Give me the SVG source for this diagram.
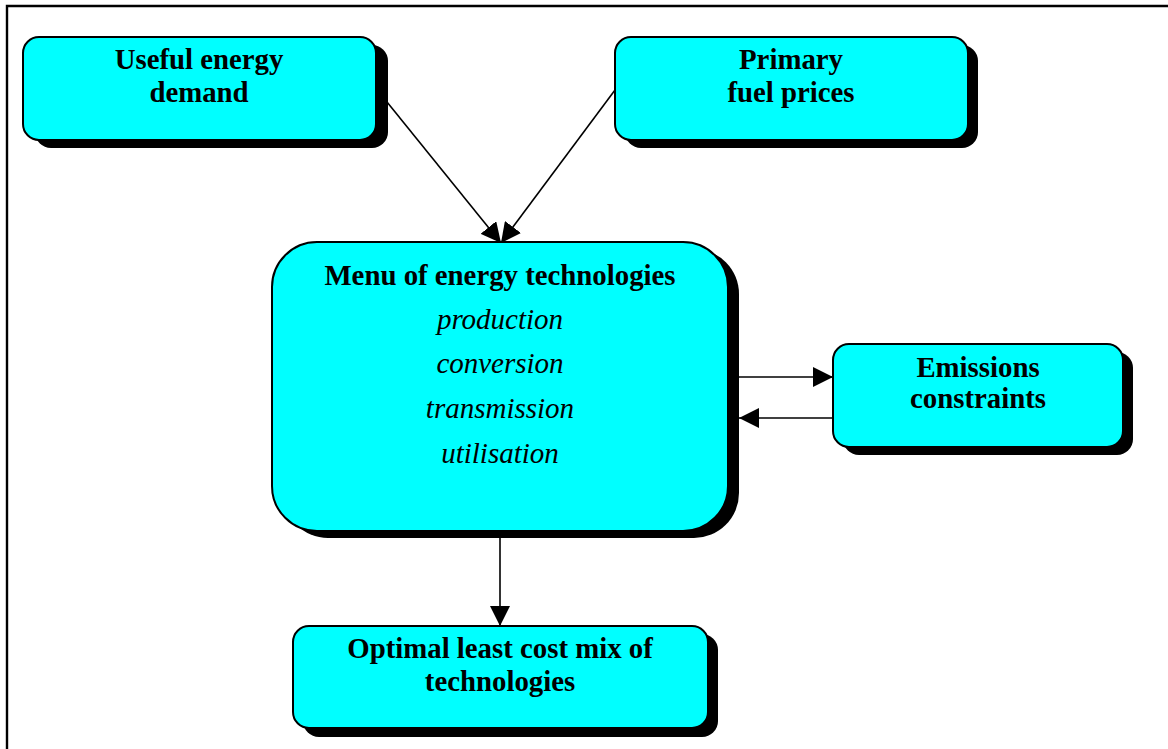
<svg xmlns="http://www.w3.org/2000/svg" width="1168" height="749" viewBox="0 0 1168 749">
<style>
.box{fill:#00ffff;stroke:#000;stroke-width:2}
.sh{fill:#000}
.t{font-family:"Liberation Serif","Times New Roman",serif;font-weight:bold;font-size:28.8px;text-anchor:middle;fill:#000}
.i{font-family:"Liberation Serif","Times New Roman",serif;font-style:italic;font-size:29px;text-anchor:middle;fill:#000}
.c{stroke:#000;stroke-width:1.6;fill:none}
</style>
<defs>
<marker id="ah" viewBox="0 0 20 20" refX="20" refY="10" markerWidth="20" markerHeight="20" markerUnits="userSpaceOnUse" orient="auto">
<path d="M0,0 L20,10 L0,20 Z" fill="#000"/>
</marker>
</defs>
<rect width="1168" height="749" fill="#fff"/>
<path d="M7,749 L7,6 L1168,6" fill="none" stroke="#000" stroke-width="2.4"/>
<g id="connectors">
<line class="c" x1="387" y1="102" x2="501" y2="243" marker-end="url(#ah)"/>
<line class="c" x1="615" y1="90" x2="501" y2="243" marker-end="url(#ah)"/>
<line class="c" x1="739" y1="377" x2="833" y2="377" marker-end="url(#ah)"/>
<line class="c" x1="833" y1="418" x2="739" y2="418" marker-end="url(#ah)"/>
<line class="c" x1="500" y1="538" x2="500" y2="626" marker-end="url(#ah)"/>
</g>
<g id="useful">
<rect class="sh" x="35" y="45" width="353" height="103" rx="16"/>
<rect class="box" x="23" y="37" width="353" height="103" rx="16"/>
<text class="t" x="199" y="69">Useful energy</text>
<text class="t" x="199" y="102">demand</text>
</g>
<g id="primary">
<rect class="sh" x="625" y="45" width="353" height="103" rx="16"/>
<rect class="box" x="615" y="37" width="353" height="103" rx="16"/>
<text class="t" x="791" y="69">Primary</text>
<text class="t" x="791" y="102">fuel prices</text>
</g>
<g id="menu">
<rect class="sh" x="283" y="249" width="456" height="289" rx="45"/>
<rect class="box" x="272" y="242" width="456" height="289" rx="45"/>
<text class="t" x="500" y="285">Menu of energy technologies</text>
<text class="i" x="500" y="329">production</text>
<text class="i" x="500" y="373">conversion</text>
<text class="i" x="500" y="418">transmission</text>
<text class="i" x="500" y="463">utilisation</text>
</g>
<g id="emissions">
<rect class="sh" x="843" y="352" width="290" height="103" rx="16"/>
<rect class="box" x="833" y="344" width="290" height="103" rx="16"/>
<text class="t" x="978" y="377">Emissions</text>
<text class="t" x="978" y="408">constraints</text>
</g>
<g id="optimal">
<rect class="sh" x="303" y="634" width="415" height="103" rx="16"/>
<rect class="box" x="293" y="626" width="415" height="102" rx="16"/>
<text class="t" x="500" y="658">Optimal least cost mix of</text>
<text class="t" x="500" y="691">technologies</text>
</g>
</svg>
